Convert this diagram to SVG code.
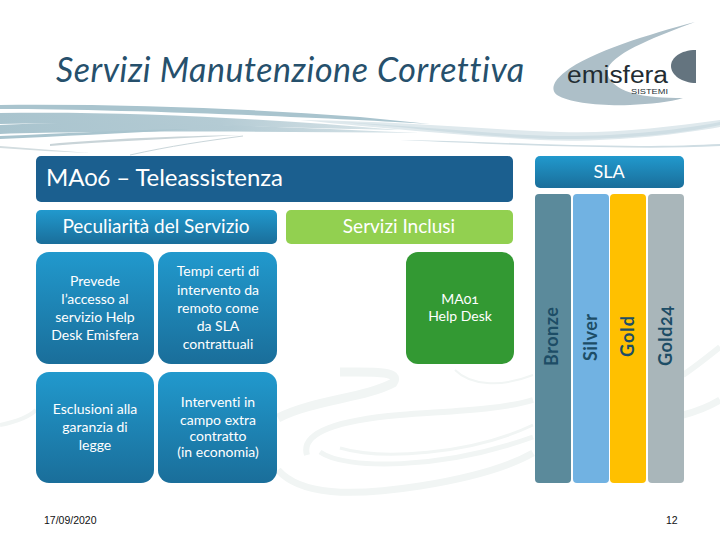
<svg xmlns="http://www.w3.org/2000/svg" width="720" height="540" viewBox="0 0 720 540">
<style>
text{font-family:"Lato","Open Sans",sans-serif;font-variant-numeric:oldstyle-nums;font-variant-ligatures:none}
.w{fill:#fff;text-anchor:middle}
.b{font-size:14px}
.h{font-size:19px}
.v{font-size:18px;font-weight:700;fill:#1d4d66;text-anchor:start}
.box{fill:url(#blue)}
.a{font-family:"Liberation Sans",sans-serif;fill:#111;font-variant-numeric:normal}
.s{fill:none;stroke:#f1f5f4}
</style>
<defs>
<linearGradient id="blue" x1="0" y1="0" x2="0" y2="1"><stop offset="0" stop-color="#2199cd"/><stop offset="1" stop-color="#1a6e9a"/></linearGradient>
<linearGradient id="fade" x1="0" y1="0" x2="1" y2="0"><stop offset="0" stop-color="#a9c4ce"/><stop offset=".55" stop-color="#b4cbd4"/><stop offset="1" stop-color="#dbe6ea"/></linearGradient>
<filter id="soft" x="-5%" y="-30%" width="110%" height="160%"><feGaussianBlur stdDeviation="0.7"/></filter>
</defs>
<rect width="720" height="540" fill="#fff"/>
<g id="background">
<g filter="url(#soft)">
<path d="M0 105C120 104 240 108 360 117L430 124C340 118 120 109 0 109Z" fill="#a9c4ce"/>
<path d="M0 113C120 111 260 118 400 130C300 128 120 122 0 124Z" fill="url(#fade)"/>
<path d="M0 125C100 120 220 124 420 133C260 131 100 131 0 134Z" fill="url(#fade)"/>
<path d="M0 136C70 133 130 130 190 129C120 134 60 136 0 139Z" fill="#a9c4ce"/>
<path d="M50 144C100 139 180 136 240 135C170 139 110 141 50 146Z" fill="#c9d4d8"/>
<path d="M0 146C30 148 60 151 90 153C60 152 30 150 0 148Z" fill="#d3dde0"/>
<path d="M300 120C400 121 490 130 560 132C610 134 670 127 720 120V127C670 136 600 143 540 140C470 136 400 130 300 120Z" fill="#dfe9ed"/>
<path d="M340 122C430 127 490 134 550 136C620 137 680 130 720 122V125C680 134 620 140 550 139C480 137 420 128 340 122Z" fill="#cfdee4"/>
<path d="M400 140C480 141 560 146 640 146C670 146 700 145 720 144V146C680 148 640 148 600 147C530 146 470 143 400 140Z" fill="#cfdde3"/>
</g>
<path d="M130 155C170 146 205 141 243 136" fill="none" stroke="#cad6da" stroke-width="1"/>
<g class="s" fill="none">
<path d="M278 418C313 400 365 398 393 383C402 370 370 372 340 372" stroke-width="9"/>
<path d="M278 470C300 495 350 497 420 486C470 478 510 466 533 453" stroke-width="7"/>
<path d="M307 455C300 432 340 420 400 415C450 411 500 410 533 400" stroke-width="6"/>
<path d="M320 452C345 470 440 470 533 437" stroke-width="5"/>
<path d="M340 448C380 460 470 455 533 425" stroke-width="3"/>
<path d="M455 370C470 385 500 388 533 375" stroke-width="2"/>
<path d="M683 415C695 412 710 406 720 400" stroke-width="7"/>
<path d="M683 375C695 367 710 355 720 347" stroke-width="6"/>
<path d="M0 425C15 422 28 418 36 410" stroke-width="4"/>
</g>
</g>
<text x="56" y="82" font-size="34" font-style="italic" fill="#26506c" textLength="468" lengthAdjust="spacing">Servizi Manutenzione Correttiva</text>
<g id="logo">
<path d="M695 22C650 34 590 52 565 72C552 82 551 90 557 95C570 103 600 106 630 105C650 104 670 102 683 98C665 98 645 97 632 93C615 88 605 78 608 68C615 52 660 35 695 22Z" fill="#adbfc8"/>
<path d="M696 50C680 50 671 58 671 66C671 75 682 83 696 83Z" fill="#64747f"/>
<text x="567" y="83" font-size="23" class="a" style="fill:#222c32" textLength="101" lengthAdjust="spacingAndGlyphs">emisfera</text>
<text x="631" y="93.500" font-size="7.500" class="a" style="fill:#2a3338" textLength="37" lengthAdjust="spacingAndGlyphs">SISTEMI</text>
</g>
<g id="banner"><rect x="36" y="156" width="477" height="46" rx="5" fill="#1b5f8f"/><text x="46" y="186" font-size="24" fill="#fff" textLength="237" lengthAdjust="spacing">MA06 – Teleassistenza</text></g>
<g id="sla"><rect x="535" y="156" width="149" height="32" rx="5" fill="url(#blue)"/><text class="w" x="609" y="178" font-size="18">SLA</text></g>
<g id="peculiarita"><rect class="box" x="36" y="210" width="241" height="34" rx="5"/><text class="w h" x="156" y="233">Peculiarità del Servizio</text></g>
<g id="inclusi"><rect x="286" y="210" width="227" height="34" rx="5" fill="#92d050"/><text class="w h" x="399" y="233">Servizi Inclusi</text></g>
<g id="n1"><rect class="box" x="36" y="252" width="118" height="112" rx="13"/><text class="w b" x="95" y="286">Prevede</text><text class="w b" x="95" y="304">l’accesso al</text><text class="w b" x="95" y="322">servizio Help</text><text class="w b" x="95" y="340">Desk Emisfera</text></g>
<g id="n2"><rect class="box" x="158" y="252" width="119" height="112" rx="13"/><text class="w b" x="218" y="276">Tempi certi di</text><text class="w b" x="218" y="295">intervento da</text><text class="w b" x="218" y="313">remoto come</text><text class="w b" x="218" y="331">da SLA</text><text class="w b" x="218" y="349">contrattuali</text></g>
<g id="n3"><rect class="box" x="36" y="372" width="118" height="111" rx="13"/><text class="w b" x="95" y="414">Esclusioni alla</text><text class="w b" x="95" y="432">garanzia di</text><text class="w b" x="95" y="450">legge</text></g>
<g id="n4"><rect class="box" x="158" y="372" width="119" height="111" rx="13"/><text class="w b" x="218" y="407">Interventi in</text><text class="w b" x="218" y="425">campo extra</text><text class="w b" x="218" y="441">contratto</text><text class="w b" x="218" y="457">(in economia)</text></g>
<g id="n5"><rect x="406" y="252" width="108" height="112" rx="12" fill="#339933"/><text class="w b" x="460" y="304">MA01</text><text class="w b" x="460" y="321">Help Desk</text></g>
<g id="bronze"><rect x="535" y="194" width="36" height="289" rx="4" fill="#5b8a9b"/><text class="v" transform="translate(558 366) rotate(-90)" textLength="59">Bronze</text></g>
<g id="silver"><rect x="573" y="194" width="36" height="289" rx="4" fill="#71b2e2"/><text class="v" transform="translate(597 361) rotate(-90)" textLength="47">Silver</text></g>
<g id="gold"><rect x="610" y="194" width="36" height="289" rx="4" fill="#ffc000"/><text class="v" transform="translate(634 357) rotate(-90)" textLength="41">Gold</text></g>
<g id="gold24"><rect x="648" y="194" width="36" height="289" rx="4" fill="#a9b6ba"/><text class="v" transform="translate(672 366) rotate(-90)" textLength="60">Gold24</text></g>
<text x="44" y="524" font-size="10.5" class="a">17/09/2020</text>
<text x="666" y="524" font-size="10.5" class="a">12</text>
</svg>
